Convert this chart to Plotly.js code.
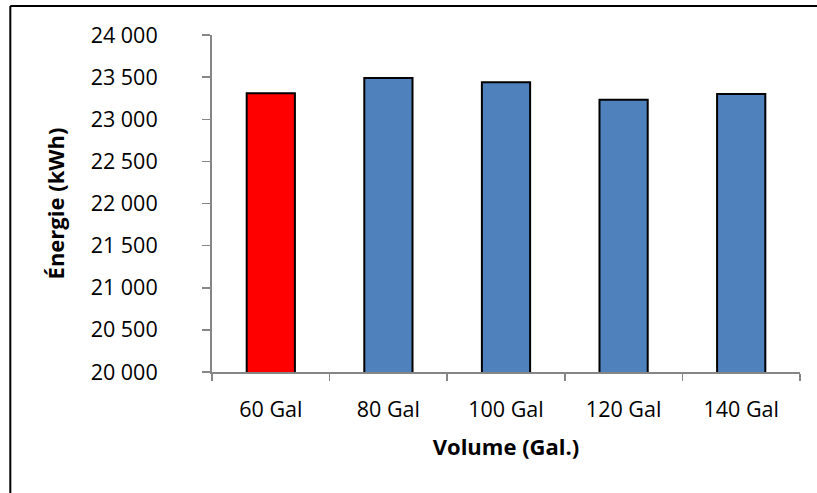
<!DOCTYPE html>
<html>
<head>
<meta charset="utf-8">
<script src="https://cdn.plot.ly/plotly-3.0.1.min.js"></script>
<style>
  html, body { margin: 0; padding: 0; background: #ffffff; }
  #chart { width: 817px; height: 493px; }
</style>
</head>
<body>
<div id="chart"></div>
<script>
// Annual energy use by storage tank volume
const volumes = ['60 Gal', '80 Gal', '100 Gal', '120 Gal', '140 Gal'];
const energyKWh = [23310, 23490, 23440, 23230, 23300];
const barColors = ['#FF0000', '#4F81BD', '#4F81BD', '#4F81BD', '#4F81BD'];
const yTickValues = [20000, 20500, 21000, 21500, 22000, 22500, 23000, 23500, 24000];

const axisGrey = '#868686';
const font = 'Open Sans, Noto Sans, sans-serif';
const tickSize = 21.5;
const titleSize = 22;

const trace = {
  type: 'bar',
  x: volumes,
  y: energyKWh,
  marker: { color: barColors, line: { color: '#000000', width: 2 } },
  hoverinfo: 'x+y'
};

// Chart frame: a rule along the top and the left edge of the figure
const frame = { color: '#000000', width: 2 };

const layout = {
  width: 817,
  height: 493,
  margin: { l: 212, r: 17, t: 35, b: 121 },
  paper_bgcolor: '#ffffff',
  plot_bgcolor: '#ffffff',
  separators: ', ',
  showlegend: false,
  bargap: 0.59,
  font: { family: font, color: '#000000', size: tickSize },
  xaxis: {
    type: 'category',
    showline: true,
    linecolor: axisGrey,
    linewidth: 2,
    ticks: 'outside',
    tickson: 'boundaries',
    ticklen: 7,
    tickwidth: 1.5,
    tickcolor: axisGrey,
    ticklabelstandoff: 17,
    showgrid: false,
    tickfont: { family: font, size: tickSize, color: '#000000' },
    title: { text: 'Volume (Gal.)', font: { family: font, size: titleSize, color: '#000000', weight: 'bold' }, standoff: 18 }
  },
  yaxis: {
    range: [20000, 24000],
    tickvals: yTickValues,
    tickformat: ',d',
    showline: true,
    linecolor: axisGrey,
    linewidth: 2,
    ticks: 'outside',
    ticklen: 8,
    tickwidth: 1.5,
    tickcolor: axisGrey,
    ticklabelstandoff: 40,
    showgrid: false,
    zeroline: false,
    tickfont: { family: font, size: tickSize, color: '#000000' },
    title: { text: 'Énergie (kWh)', font: { family: font, size: titleSize, color: '#000000', weight: 'bold' }, standoff: 20 }
  },
  shapes: [
    { type: 'line', xref: 'paper', yref: 'paper', x0: -0.343, x1: 1.2, y0: 1.086, y1: 1.086, line: frame },
    { type: 'line', xref: 'paper', yref: 'paper', x0: -0.343, x1: -0.343, y0: 1.086, y1: -0.5, line: frame }
  ]
};

Plotly.newPlot('chart', [trace], layout, { displayModeBar: false, staticPlot: true });
</script>
</body>
</html>
